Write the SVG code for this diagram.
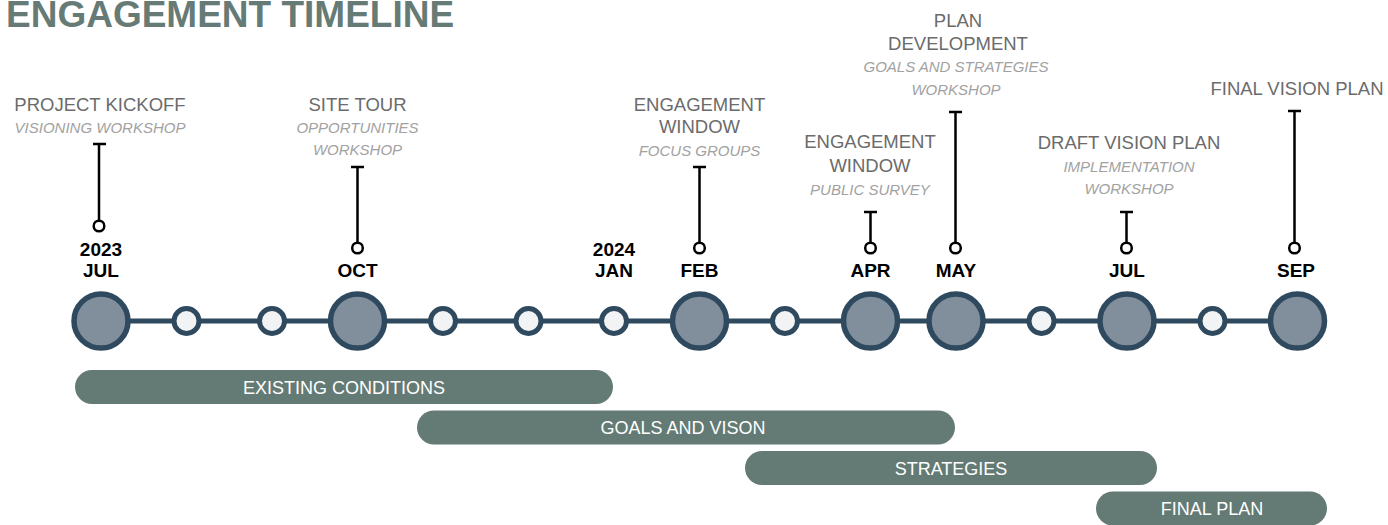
<svg xmlns="http://www.w3.org/2000/svg" width="1388" height="525" viewBox="0 0 1388 525">
<style>
.heading{font-family:"Liberation Sans",Arial,sans-serif;font-weight:bold;font-size:37px;fill:#667b76}
.t{font-family:"Liberation Sans",Arial,sans-serif;font-size:18.5px;fill:#6b6b6b;text-anchor:middle}
.s{font-family:"Liberation Sans",Arial,sans-serif;font-size:15px;font-style:italic;fill:#a2a2a2;text-anchor:middle}
.m{font-family:"Liberation Sans",Arial,sans-serif;font-size:19px;font-weight:bold;fill:#000;text-anchor:middle}
.big{fill:#818f9c;stroke:#2f4a5f;stroke-width:5.5}
.small{fill:#f2f3f5;stroke:#2f4a5f;stroke-width:5}
.pin{stroke:#000;stroke-width:2.5;fill:none}
.pinc{fill:#fff;stroke:#000;stroke-width:2.5}
.bar{fill:#647a75}
.bt{font-family:"Liberation Sans",Arial,sans-serif;font-size:18px;fill:#fff;text-anchor:middle}
</style>
<text class="heading" x="6" y="27">ENGAGEMENT TIMELINE</text>

<g id="connectors">
<line x1="101" y1="321" x2="1297" y2="321" stroke="#2f4a5f" stroke-width="5"/>
<path class="pin" d="M93,144H106M99,144V221"/>
<path class="pin" d="M351,167H364M357.5,167V243"/>
<path class="pin" d="M693,167H706M699.5,167V243"/>
<path class="pin" d="M864,212H877M870.5,212V243"/>
<path class="pin" d="M949,112H962M955.5,112V243"/>
<path class="pin" d="M1120,212H1133M1126.5,212V243"/>
<path class="pin" d="M1288,111H1301M1294.5,111V243"/>
</g>

<g id="node-jul2023">
<circle class="big" cx="101" cy="321" r="27"/>
<circle class="pinc" cx="99" cy="226" r="5.3"/>
<text class="m" x="101" y="256">2023</text>
<text class="m" x="101" y="277">JUL</text>
<text class="t" x="100" y="111">PROJECT KICKOFF</text>
<text class="s" x="100" y="133">VISIONING WORKSHOP</text>
</g>
<g id="node-aug2023"><circle class="small" cx="186.5" cy="321" r="12.5"/></g>
<g id="node-sep2023"><circle class="small" cx="272" cy="321" r="12.5"/></g>
<g id="node-oct2023">
<circle class="big" cx="357.5" cy="321" r="27"/>
<circle class="pinc" cx="357.5" cy="248" r="5.3"/>
<text class="m" x="357.5" y="277">OCT</text>
<text class="t" x="357.5" y="111">SITE TOUR</text>
<text class="s" x="357.5" y="133">OPPORTUNITIES</text>
<text class="s" x="357.5" y="155">WORKSHOP</text>
</g>
<g id="node-nov2023"><circle class="small" cx="443" cy="321" r="12.5"/></g>
<g id="node-dec2023"><circle class="small" cx="528.5" cy="321" r="12.5"/></g>
<g id="node-jan2024">
<circle class="small" cx="614" cy="321" r="12.5"/>
<text class="m" x="614" y="256">2024</text>
<text class="m" x="614" y="277">JAN</text>
</g>
<g id="node-feb2024">
<circle class="big" cx="699.5" cy="321" r="27"/>
<circle class="pinc" cx="699.5" cy="248" r="5.3"/>
<text class="m" x="699.5" y="277">FEB</text>
<text class="t" x="699.5" y="111">ENGAGEMENT</text>
<text class="t" x="699.5" y="133">WINDOW</text>
<text class="s" x="699.5" y="156">FOCUS GROUPS</text>
</g>
<g id="node-mar2024"><circle class="small" cx="785" cy="321" r="12.5"/></g>
<g id="node-apr2024">
<circle class="big" cx="870.5" cy="321" r="27"/>
<circle class="pinc" cx="870.5" cy="248" r="5.3"/>
<text class="m" x="870.5" y="277">APR</text>
<text class="t" x="870" y="148">ENGAGEMENT</text>
<text class="t" x="870" y="172">WINDOW</text>
<text class="s" x="870" y="195">PUBLIC SURVEY</text>
</g>
<g id="node-may2024">
<circle class="big" cx="956" cy="321" r="27"/>
<circle class="pinc" cx="955.5" cy="248" r="5.3"/>
<text class="m" x="956" y="277">MAY</text>
<text class="t" x="958" y="27">PLAN</text>
<text class="t" x="958" y="50">DEVELOPMENT</text>
<text class="s" x="956" y="72">GOALS AND STRATEGIES</text>
<text class="s" x="956" y="95">WORKSHOP</text>
</g>
<g id="node-jun2024"><circle class="small" cx="1041.5" cy="321" r="12.5"/></g>
<g id="node-jul2024">
<circle class="big" cx="1127" cy="321" r="27"/>
<circle class="pinc" cx="1126.5" cy="248" r="5.3"/>
<text class="m" x="1127" y="277">JUL</text>
<text class="t" x="1129" y="149">DRAFT VISION PLAN</text>
<text class="s" x="1129" y="172">IMPLEMENTATION</text>
<text class="s" x="1129" y="194">WORKSHOP</text>
</g>
<g id="node-aug2024"><circle class="small" cx="1212.5" cy="321" r="12.5"/></g>
<g id="node-sep2024">
<circle class="big" cx="1297.5" cy="321" r="27"/>
<circle class="pinc" cx="1294.5" cy="248" r="5.3"/>
<text class="m" x="1296" y="277">SEP</text>
<text class="t" x="1297" y="95">FINAL VISION PLAN</text>
</g>

<g id="phase-existing">
<rect class="bar" x="75" y="370" width="538" height="34" rx="17"/>
<text class="bt" x="344" y="393.5">EXISTING CONDITIONS</text>
</g>
<g id="phase-goals">
<rect class="bar" x="417" y="410.5" width="538" height="34" rx="17"/>
<text class="bt" x="683" y="434">GOALS AND VISON</text>
</g>
<g id="phase-strategies">
<rect class="bar" x="745" y="451" width="412" height="34" rx="17"/>
<text class="bt" x="951" y="474.5">STRATEGIES</text>
</g>
<g id="phase-final">
<rect class="bar" x="1096" y="491.5" width="231" height="34" rx="17"/>
<text class="bt" x="1212" y="515">FINAL PLAN</text>
</g>
</svg>
